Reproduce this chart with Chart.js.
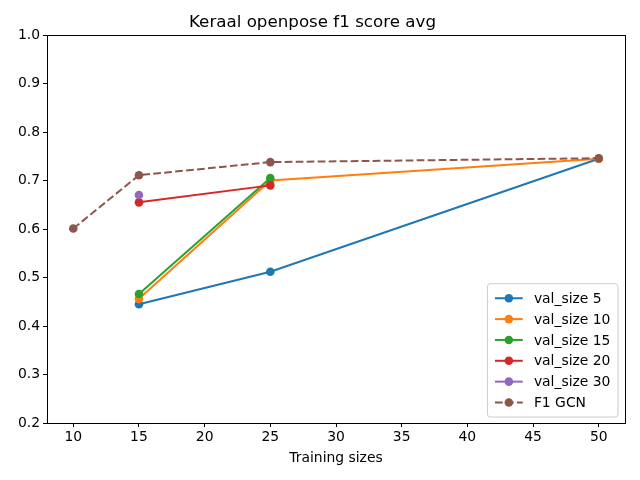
<!DOCTYPE html>
<html>
<head>
<meta charset="utf-8">
<script src="https://cdn.jsdelivr.net/npm/chart.js@4"></script>
<style>
  html, body { margin: 0; padding: 0; background: #fff; }
  #wrap { width: 640px; height: 480px; }
</style>
</head>
<body>
<div id="wrap"><canvas id="chart" width="640" height="480"></canvas></div>
<script>
// data
const seriesNames = ['val_size 5', 'val_size 10', 'val_size 15', 'val_size 20', 'val_size 30', 'F1 GCN'];
const sizes5 = [15, 25, 50];
const f1Val5 = [0.445, 0.512, 0.745];
const sizes10 = [15, 25, 50];
const f1Val10 = [0.456, 0.700, 0.745];
const sizes15 = [15, 25];
const f1Val15 = [0.466, 0.705];
const sizes20 = [15, 25];
const f1Val20 = [0.655, 0.690];
const sizes30 = [15];
const f1Val30 = [0.670];
const sizesGcn = [10, 15, 25, 50];
const f1Gcn = [0.601, 0.711, 0.738, 0.746];
const xTicks = [10, 15, 20, 25, 30, 35, 40, 45, 50];
const yTicks = [0.2, 0.3, 0.4, 0.5, 0.6, 0.7, 0.8, 0.9, 1.0];

const colors = ['#1f77b4', '#ff7f0e', '#2ca02c', '#d62728', '#9467bd', '#8c564b'];
const FONT = 'DejaVu Sans';

function pts(xs, ys) {
    return xs.map((x, i) => ({ x: x, y: ys[i] }));
}

const seriesData = [
    pts(sizes5, f1Val5),
    pts(sizes10, f1Val10),
    pts(sizes15, f1Val15),
    pts(sizes20, f1Val20),
    pts(sizes30, f1Val30),
    pts(sizesGcn, f1Gcn)
];

const datasets = seriesData.map((d, i) => ({
    label: seriesNames[i],
    data: d,
    borderColor: colors[i],
    backgroundColor: colors[i],
    pointBackgroundColor: colors[i],
    pointBorderColor: colors[i],
    pointRadius: 4.3,
    pointBorderWidth: 0,
    borderWidth: 2,
    borderDash: i === 5 ? [7.7, 3.3] : [],
    tension: 0,
    order: -i
}));

// frame on all four sides + legend box inside the axes
const framePlugin = {
    id: 'frameAndLegend',
    afterDraw(chart) {
        const ctx = chart.ctx;
        const a = chart.chartArea;
        ctx.save();
        ctx.strokeStyle = '#000';
        ctx.lineWidth = 1;
        ctx.strokeRect(Math.round(a.left) + 0.5, Math.round(a.top) + 0.5,
            Math.round(a.right - a.left), Math.round(a.bottom - a.top));

        const fs = 13.9;
        ctx.font = fs + 'px "' + FONT + '"';
        let tw = 0;
        chart.data.datasets.forEach(ds => { tw = Math.max(tw, ctx.measureText(ds.label).width); });
        const pad = 0.4 * fs, handle = 2 * fs, gap = 0.8 * fs, rowH = fs * 1.0, spacing = 0.5 * fs;
        const n = chart.data.datasets.length;
        const w = pad * 2 + handle + gap + tw + 4;
        const h = pad * 2 + n * rowH + (n - 1) * spacing + 4;
        const x0 = a.right - 7 - w;
        const y0 = a.bottom - 6 - h;

        ctx.beginPath();
        ctx.roundRect(x0, y0, w, h, 3);
        ctx.fillStyle = 'rgba(255,255,255,0.8)';
        ctx.fill();
        ctx.strokeStyle = '#cccccc';
        ctx.stroke();

        chart.data.datasets.forEach((ds, i) => {
            const cy = y0 + pad + 2 + i * (rowH + spacing) + rowH / 2;
            const lx = x0 + pad + 2;
            ctx.strokeStyle = ds.borderColor;
            ctx.lineWidth = 2;
            ctx.setLineDash(ds.borderDash || []);
            ctx.beginPath();
            ctx.moveTo(lx, cy);
            ctx.lineTo(lx + handle, cy);
            ctx.stroke();
            ctx.setLineDash([]);
            ctx.fillStyle = ds.backgroundColor;
            ctx.beginPath();
            ctx.arc(lx + handle / 2, cy, 4.3, 0, Math.PI * 2);
            ctx.fill();
            ctx.fillStyle = '#000';
            ctx.textBaseline = 'middle';
            ctx.textAlign = 'left';
            ctx.fillText(ds.label, lx + handle + gap, cy + 1);
        });
        ctx.restore();
    }
};

new Chart(document.getElementById('chart'), {
    type: 'line',
    data: { datasets: datasets },
    plugins: [framePlugin],
    options: {
        responsive: false,
        animation: false,
        layout: { padding: { left: 0, right: 15, top: 0, bottom: 0 } },
        plugins: {
            legend: { display: false },
            tooltip: { enabled: false },
            title: {
                display: true,
                text: 'Keraal openpose f1 score avg',
                color: '#000',
                font: { family: FONT, size: 16.7, weight: 'normal' },
                padding: { top: 13, bottom: 2 }
            }
        },
        scales: {
            x: {
                type: 'linear',
                min: 8,
                max: 52,
                afterBuildTicks: axis => { axis.ticks = xTicks.map(v => ({ value: v })); },
                afterFit: scale => { scale.height = 57; },
                ticks: {
                    color: '#000',
                    font: { family: FONT, size: 13.9 },
                    padding: 2,
                    maxRotation: 0,
                    callback: v => String(v)
                },
                grid: { display: true, drawOnChartArea: false, drawTicks: true, tickLength: 4, color: '#000' },
                border: { display: true, color: '#000' },
                title: {
                    display: true,
                    text: 'Training sizes',
                    color: '#000',
                    font: { family: FONT, size: 13.9 },
                    padding: { top: 4, bottom: 13 }
                }
            },
            y: {
                type: 'linear',
                min: 0.2,
                max: 1.0,
                afterBuildTicks: axis => { axis.ticks = yTicks.map(v => ({ value: v })); },
                afterFit: scale => { scale.width = 47; },
                ticks: {
                    color: '#000',
                    font: { family: FONT, size: 13.9 },
                    padding: 3,
                    callback: v => Number(v).toFixed(1)
                },
                grid: { display: true, drawOnChartArea: false, drawTicks: true, tickLength: 4, color: '#000' },
                border: { display: true, color: '#000' }
            }
        }
    }
});
</script>
</body>
</html>
